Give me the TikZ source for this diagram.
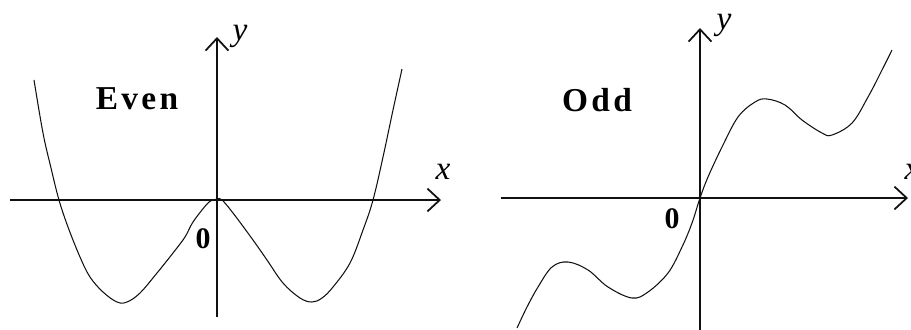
\documentclass[tikz,border=0pt]{standalone}
\usepackage{fontspec}
\setmainfont{Liberation Serif}
\usepackage{xcolor}
\usepackage{tikz}
\usetikzlibrary{arrows.meta}
\definecolor{inkBlack}{HTML}{111111}

\tikzset{
  axisline/.style={line width=1.1pt, color=inkBlack,
    -{Straight Barb[length=7pt, width=13pt, line width=1pt]}},
  graphline/.style={line width=0.6pt, color=inkBlack},
  parity/.style={font=\fontsize{19}{19}\selectfont\bfseries\addfontfeature{LetterSpace=10}, inner sep=0pt},
  axlabel/.style={font=\fontsize{19}{19}\selectfont\itshape, inner sep=0pt},
  zerolabel/.style={font=\fontsize{17}{17}\selectfont\bfseries, inner sep=0pt},
}

\begin{document}
\begin{tikzpicture}[x=0.02cm, y=-0.02cm]
    \useasboundingbox (0,0) rectangle (911,329);
    \clip (0,0) rectangle (911,329);
    % Cut-off letter of the title above
    \node[font=\fontsize{19}{19}\selectfont, inner sep=0pt, anchor=base] (titleg) at (693,-8.5) {g};
    % Even function: axes
    \coordinate (evenXa) at (10,200);
    \coordinate (evenXb) at (441,200);
    \coordinate (evenYa) at (217,317);
    \coordinate (evenYb) at (217,37);
    \draw[axisline] (evenXa) -- (evenXb);
    \draw[axisline] (evenYa) -- (evenYb);
    \node[axlabel] (evenX) at (443,172) {x};
    \node[axlabel] (evenY) at (240,36) {y};
    \node[zerolabel] (evenO) at (203,239) {0};
    \node[parity] (evenName) at (137,99) {Even};
    % Even function: W-shaped curve
    \draw[graphline] plot[smooth, tension=0.6] coordinates {
      (34,80) (43,133) (51,168) (59,200) (68,227) (80,257) (90,277) (103,292)
      (117,302) (127,302) (140,293) (157,273) (173,253) (185,237) (193,222)
      (207,204) (213,200) (217,199) (222,200) (233,213) (253,240) (267,260)
      (283,283) (300,298) (312,302) (322,298) (333,287) (350,263) (363,230)
      (373,200) (383,157) (393,110) (402,69)};
    % Odd function: axes
    \coordinate (oddXa) at (501,198);
    \coordinate (oddXb) at (908,198);
    \coordinate (oddYa) at (700,330);
    \coordinate (oddYb) at (700,28);
    \draw[axisline] (oddXa) -- (oddXb);
    \draw[axisline] (oddYa) -- (oddYb);
    \node[axlabel] (oddX) at (912,172) {x};
    \node[axlabel] (oddY) at (724,25) {y};
    \node[zerolabel] (oddO) at (672,219) {0};
    \node[parity] (oddName) at (597,100) {Odd};
    % Odd function: wavy curve through the origin
    \draw[graphline] plot[smooth, tension=0.6] coordinates {
      (517,328) (527,307) (538,287) (552,267) (568,262) (588,270) (608,287)
      (632,298) (648,292) (668,273) (682,247) (692,223) (700,198) (708,177)
      (722,147) (738,117) (755,102) (767,99) (785,105) (802,120) (822,133)
      (832,135) (852,123) (868,97) (882,70) (892,50)};
\end{tikzpicture}
\end{document}
